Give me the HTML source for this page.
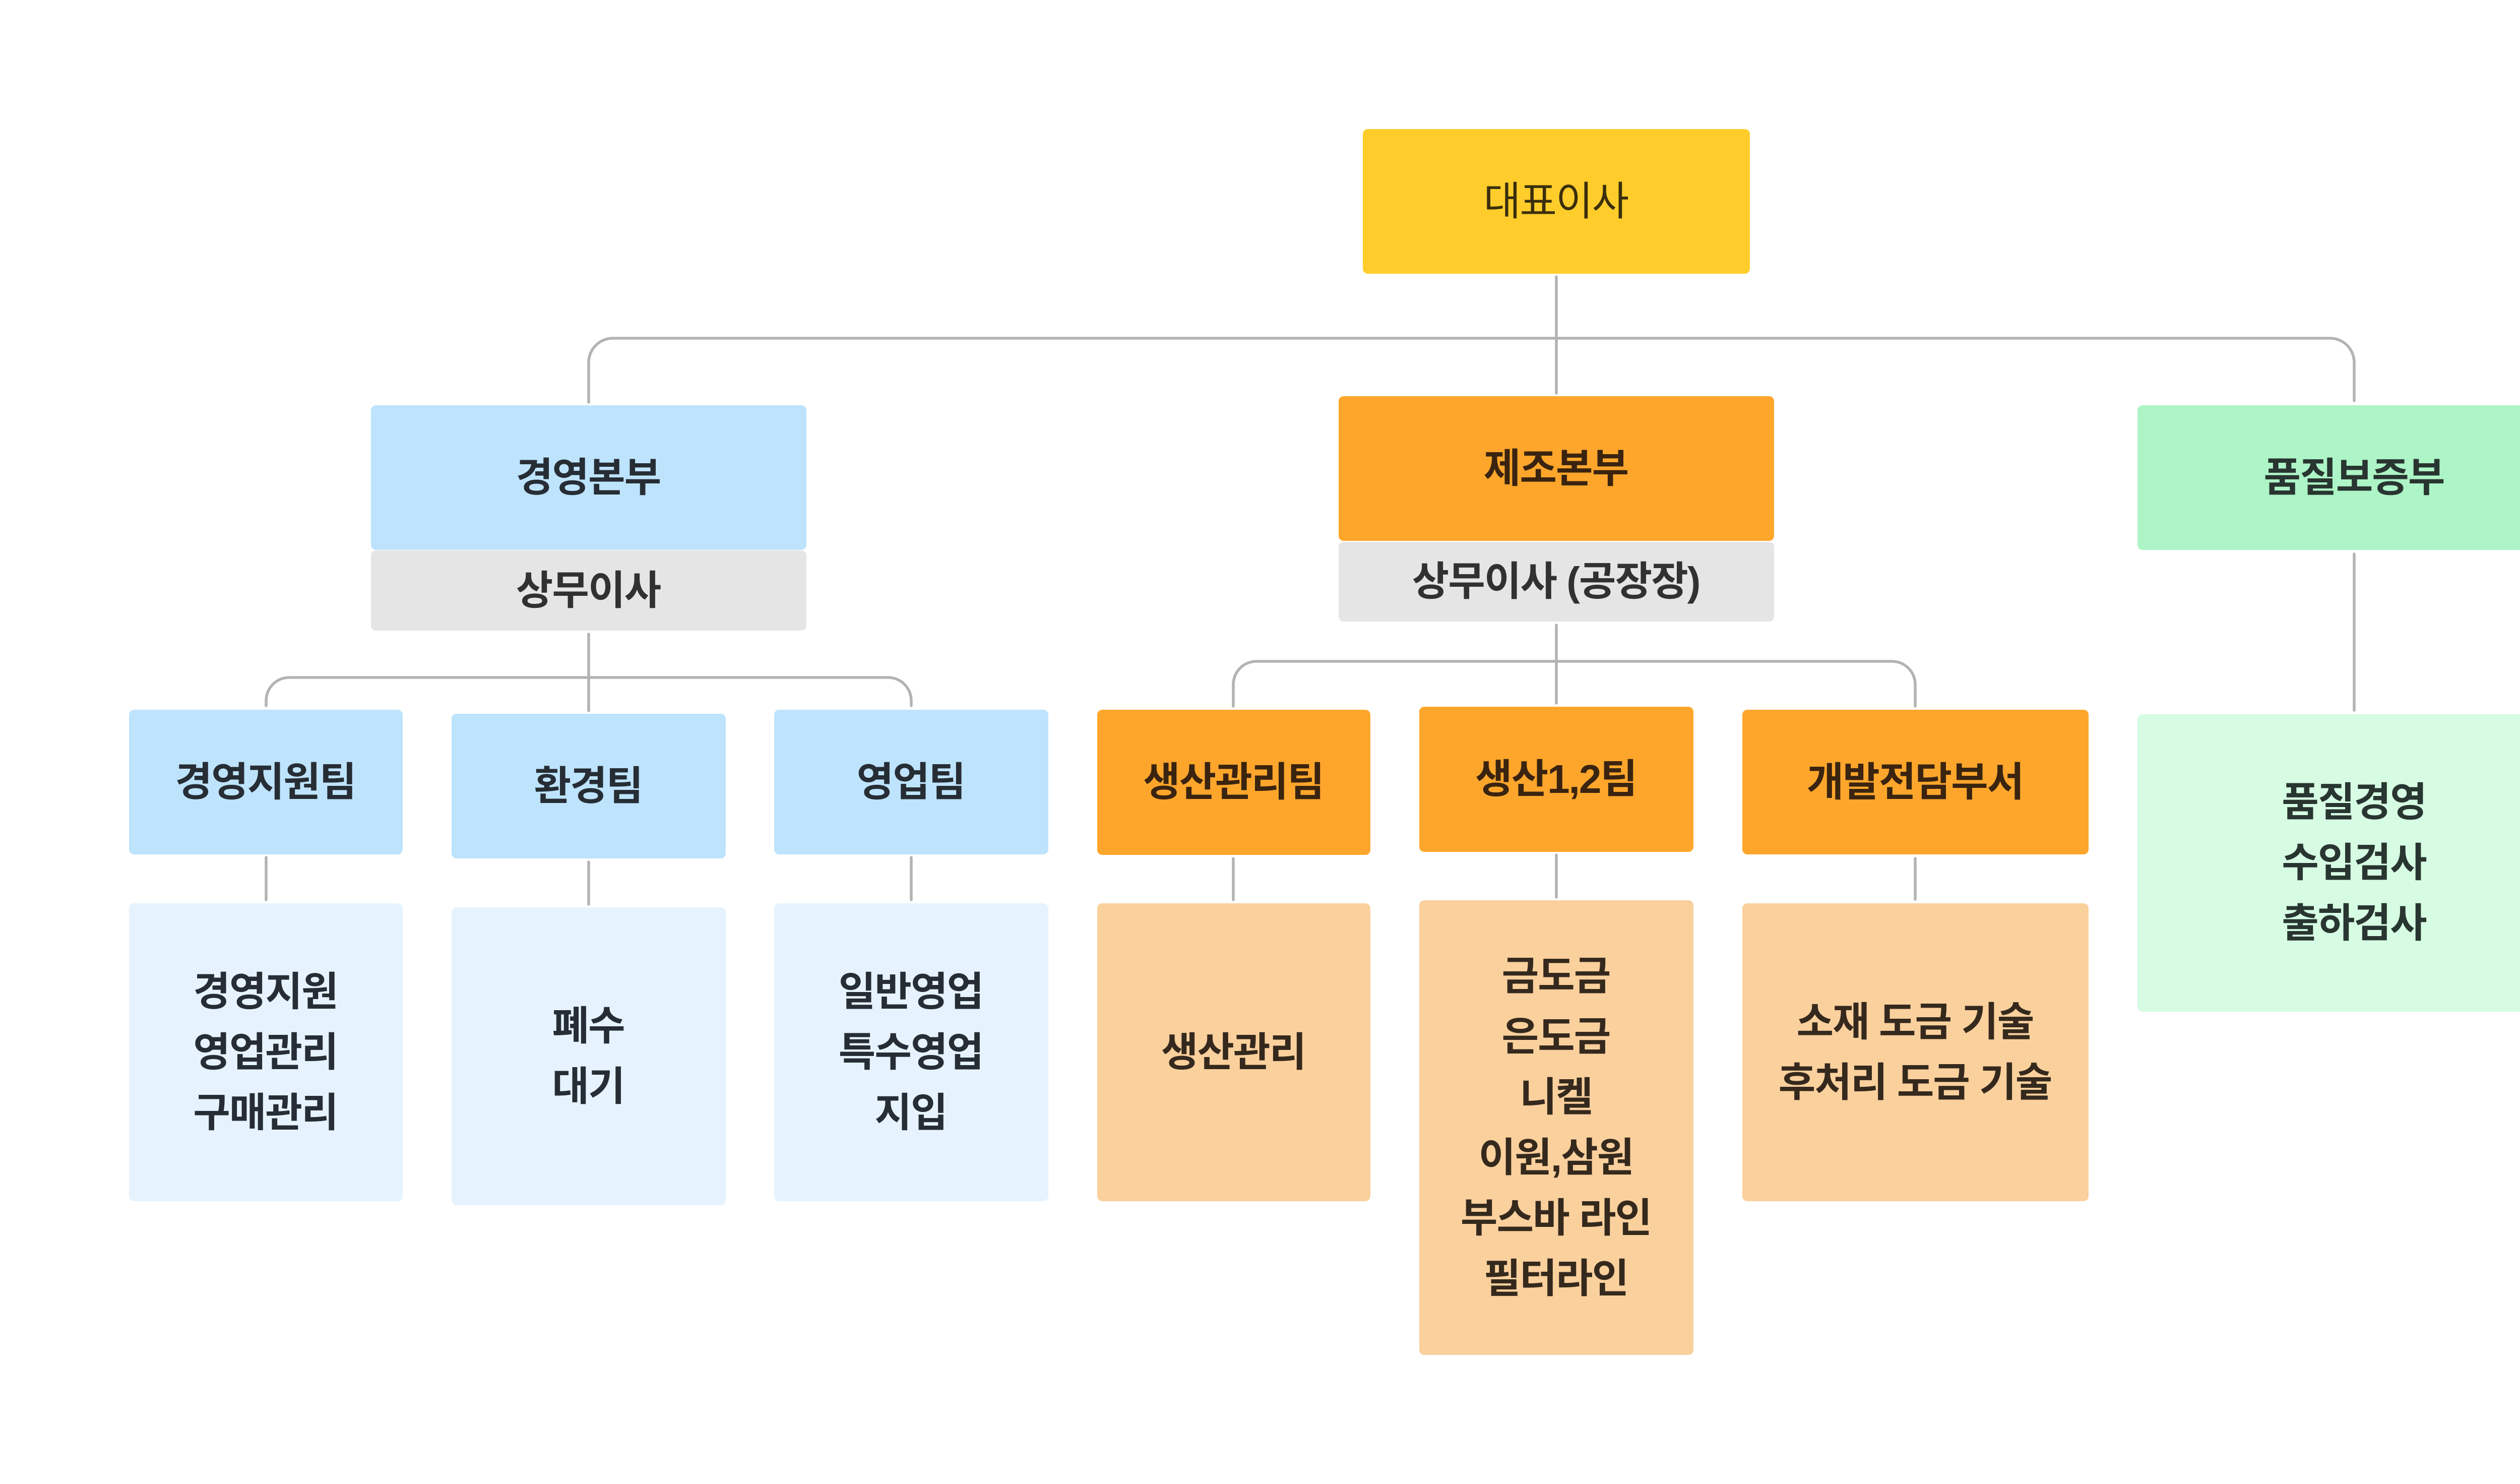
<!DOCTYPE html>
<html>
<head>
<meta charset="utf-8">
<style>
  html, body { margin:0; padding:0; }
  body { width:5360px; height:2944px; background:#ffffff; position:relative; overflow:hidden;
         font-family:"Liberation Sans","Noto Sans CJK KR",sans-serif; }
  .b { position:absolute; border-radius:10px; display:flex; align-items:center; justify-content:center;
       text-align:center; font-size:80px; line-height:120px; letter-spacing:-2px; font-weight:700; box-sizing:border-box; }
  .b > div { transform:translateX(-1px); white-space:nowrap; }
  .y { background:#FFCD2B; color:#3a2e0c; font-weight:400; }
  .o { background:#FEA62B; color:#3a2410; }
  .lo { background:#FAD09D; color:#35291d; }
  .bl { background:#BEE3FC; color:#262d34; }
  .lb { background:#E6F3FE; color:#262d34; }
  .g { background:#ADF4C7; color:#283530; }
  .lg { background:#D6FCE3; color:#283530; }
  .gr { background:#E5E5E5; color:#313131; }
  svg { position:absolute; left:0; top:0; }
</style>
</head>
<body>
<svg width="5360" height="2944" viewBox="0 0 5360 2944" xmlns="http://www.w3.org/2000/svg">
  <g fill="none" stroke="#b3b3b3" stroke-width="5.5" stroke-linecap="round" stroke-linejoin="round">
    <path d="M3088 549 V780"/>
    <path d="M1168 798 V719 A48 48 0 0 1 1216 671 H4623 A48 48 0 0 1 4671 719 V795"/>
    <path d="M1168 1258 V1410"/>
    <path d="M528 1400 V1390 A46 46 0 0 1 574 1344 H1762 A46 46 0 0 1 1808 1390 V1400"/>
    <path d="M3088 1240 V1395"/>
    <path d="M2447 1401 V1358 A46 46 0 0 1 2493 1312 H3754 A46 46 0 0 1 3800 1358 V1401"/>
    <path d="M4671 1099 V1409"/>
    <path d="M528 1701 V1785"/>
    <path d="M1168 1710 V1794"/>
    <path d="M1808 1701 V1785"/>
    <path d="M2447 1703 V1785"/>
    <path d="M3088 1696 V1780"/>
    <path d="M3800 1703 V1784"/>
  </g>
</svg>

<div class="b y" style="left:2704px;top:256px;width:768px;height:287px;"><div>대표이사</div></div>

<div class="b bl" style="left:736px;top:804px;width:864px;height:287px;"><div>경영본부</div></div>
<div class="b gr" style="left:736px;top:1092px;width:864px;height:159px;"><div>상무이사</div></div>

<div class="b o" style="left:2656px;top:786px;width:864px;height:287px;"><div>제조본부</div></div>
<div class="b gr" style="left:2656px;top:1075px;width:864px;height:158px;"><div>상무이사 (공장장)</div></div>

<div class="b g" style="left:4241px;top:804px;width:861px;height:287px;"><div>품질보증부</div></div>

<div class="b bl" style="left:256px;top:1408px;width:543px;height:287px;"><div>경영지원팀</div></div>
<div class="b bl" style="left:896px;top:1416px;width:544px;height:287px;"><div>환경팀</div></div>
<div class="b bl" style="left:1536px;top:1408px;width:544px;height:287px;"><div>영업팀</div></div>

<div class="b lb" style="left:256px;top:1792px;width:543px;height:591px;"><div>경영지원<br>영업관리<br>구매관리</div></div>
<div class="b lb" style="left:896px;top:1800px;width:544px;height:591px;"><div>폐수<br>대기</div></div>
<div class="b lb" style="left:1536px;top:1792px;width:544px;height:591px;"><div>일반영업<br>특수영업<br>지입</div></div>

<div class="b o" style="left:2177px;top:1408px;width:542px;height:288px;"><div>생산관리팀</div></div>
<div class="b o" style="left:2816px;top:1402px;width:544px;height:288px;"><div>생산1,2팀</div></div>
<div class="b o" style="left:3457px;top:1408px;width:687px;height:287px;"><div>개발전담부서</div></div>

<div class="b lo" style="left:2177px;top:1792px;width:542px;height:591px;"><div>생산관리</div></div>
<div class="b lo" style="left:2816px;top:1786px;width:544px;height:902px;"><div>금도금<br>은도금<br>니켈<br>이원,삼원<br>부스바 라인<br>필터라인</div></div>
<div class="b lo" style="left:3457px;top:1792px;width:687px;height:591px;"><div>소재 도금 기술<br>후처리 도금 기술</div></div>

<div class="b lg" style="left:4241px;top:1417px;width:861px;height:590px;"><div>품질경영<br>수입검사<br>출하검사</div></div>
</body>
</html>
